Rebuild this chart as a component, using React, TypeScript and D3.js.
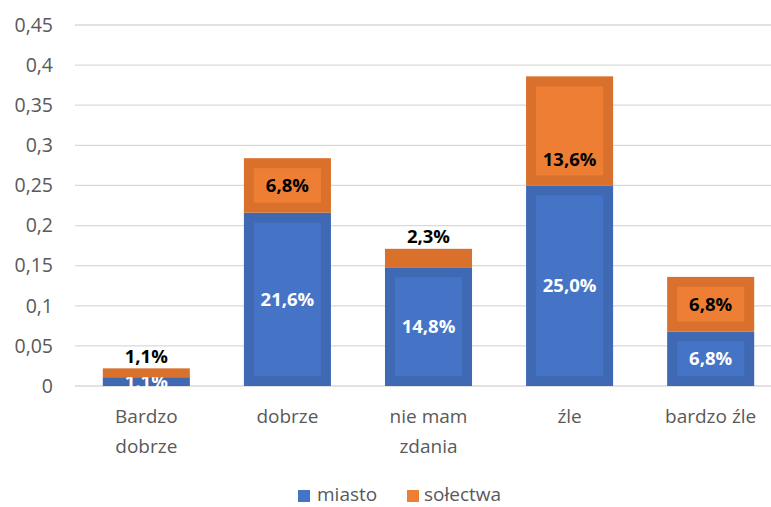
import React from "react";
import * as d3 from "d3";

const categories = ["Bardzo dobrze", "dobrze", "nie mam zdania", "źle", "bardzo źle"];
const categoryLines = [["Bardzo", "dobrze"], ["dobrze"], ["nie mam", "zdania"], ["źle"], ["bardzo źle"]];
const miasto = [0.011, 0.216, 0.148, 0.25, 0.068];
const solectwa = [0.011, 0.068, 0.023, 0.136, 0.068];
const yTicks = [0, 0.05, 0.1, 0.15, 0.2, 0.25, 0.3, 0.35, 0.4, 0.45];
const seriesNames = ["miasto", "sołectwa"];

const W = 771, H = 507;
const FONT = "'Open Sans', 'Noto Sans', sans-serif";

const fmtTick = (v: number) => String(+v.toFixed(2)).replace(".", ",");
const fmtPct = (v: number) => (v * 100).toFixed(1).replace(".", ",") + "%";

const series = [
  { name: seriesNames[0], values: miasto, outer: "#3F69B3", inner: "#4574C6", text: "#ffffff" },
  { name: seriesNames[1], values: solectwa, outer: "#D9712D", inner: "#EE7E33", text: "#000000" },
];

export default function App() {
  const x = d3.scaleBand<string>().domain(categories).range([76, 781]).paddingInner(0.383).paddingOuter(0.19);
  const y = d3.scaleLinear().domain([0, 0.45]).range([386, 25]);
  const stacked = d3.stack<number>().keys([0, 1] as any).value((i: any, k: any) => series[k].values[i])(categories.map((_, i) => i) as any);

  return (
    <svg width={W} height={H} style={{ position: "absolute", left: 0, top: 0, background: "#fff" }} fontFamily={FONT}>
      {yTicks.map((t) => (
        <g key={t}>
          <line x1={75} x2={771} y1={y(t)} y2={y(t)} stroke="#d9d9d9" strokeWidth={1.3} />
          <text x={53} y={y(t)} dy="0.35em" textAnchor="end" fontSize={19.5} fill="#595959">{fmtTick(t)}</text>
        </g>
      ))}
      {stacked.map((layer: any, si: number) => {
        const s = series[si];
        return (
          <g key={s.name}>
            {layer.map((d: any, i: number) => {
              const x0 = x(categories[i])!;
              const bw = x.bandwidth();
              const yTop = y(d[1]);
              const yBot = y(d[0]);
              const h = yBot - yTop;
              const hasBox = h > 30;
              const inset = 10;
              let ty = (yTop + yBot) / 2;
              if (si === 1 && !hasBox) ty = yTop - 12;
              if (si === 1 && h > 80) ty = yBot - 26;
              return (
                <g key={i}>
                  <rect x={x0} y={yTop} width={bw} height={h} fill={s.outer} />
                  {hasBox && (
                    <rect x={x0 + inset} y={yTop + inset} width={bw - 2 * inset} height={h - 2 * inset} fill={s.inner} />
                  )}
                  <text x={x0 + bw / 2} y={ty} dy="0.36em" textAnchor="middle" fontSize={18.5} fontWeight="bold"
                    fill={s.text}>{fmtPct(s.values[i])}</text>
                </g>
              );
            })}
          </g>
        );
      })}
      {categories.map((c, i) => (
        <text key={c} x={x(c)! + x.bandwidth() / 2} y={423} textAnchor="middle" fontSize={19} fill="#595959">
          {categoryLines[i].map((l, j) => (
            <tspan key={j} x={x(c)! + x.bandwidth() / 2} dy={j === 0 ? 0 : 30}>{l}</tspan>
          ))}
        </text>
      ))}
      <g>
        <rect x={298} y={490} width={12} height={12} fill={series[0].inner} />
        <text x={317} y={501} fontSize={19} fill="#595959">{seriesNames[0]}</text>
        <rect x={407} y={490} width={12} height={12} fill={series[1].inner} />
        <text x={424} y={501} fontSize={19} fill="#595959">{seriesNames[1]}</text>
      </g>
    </svg>
  );
}
